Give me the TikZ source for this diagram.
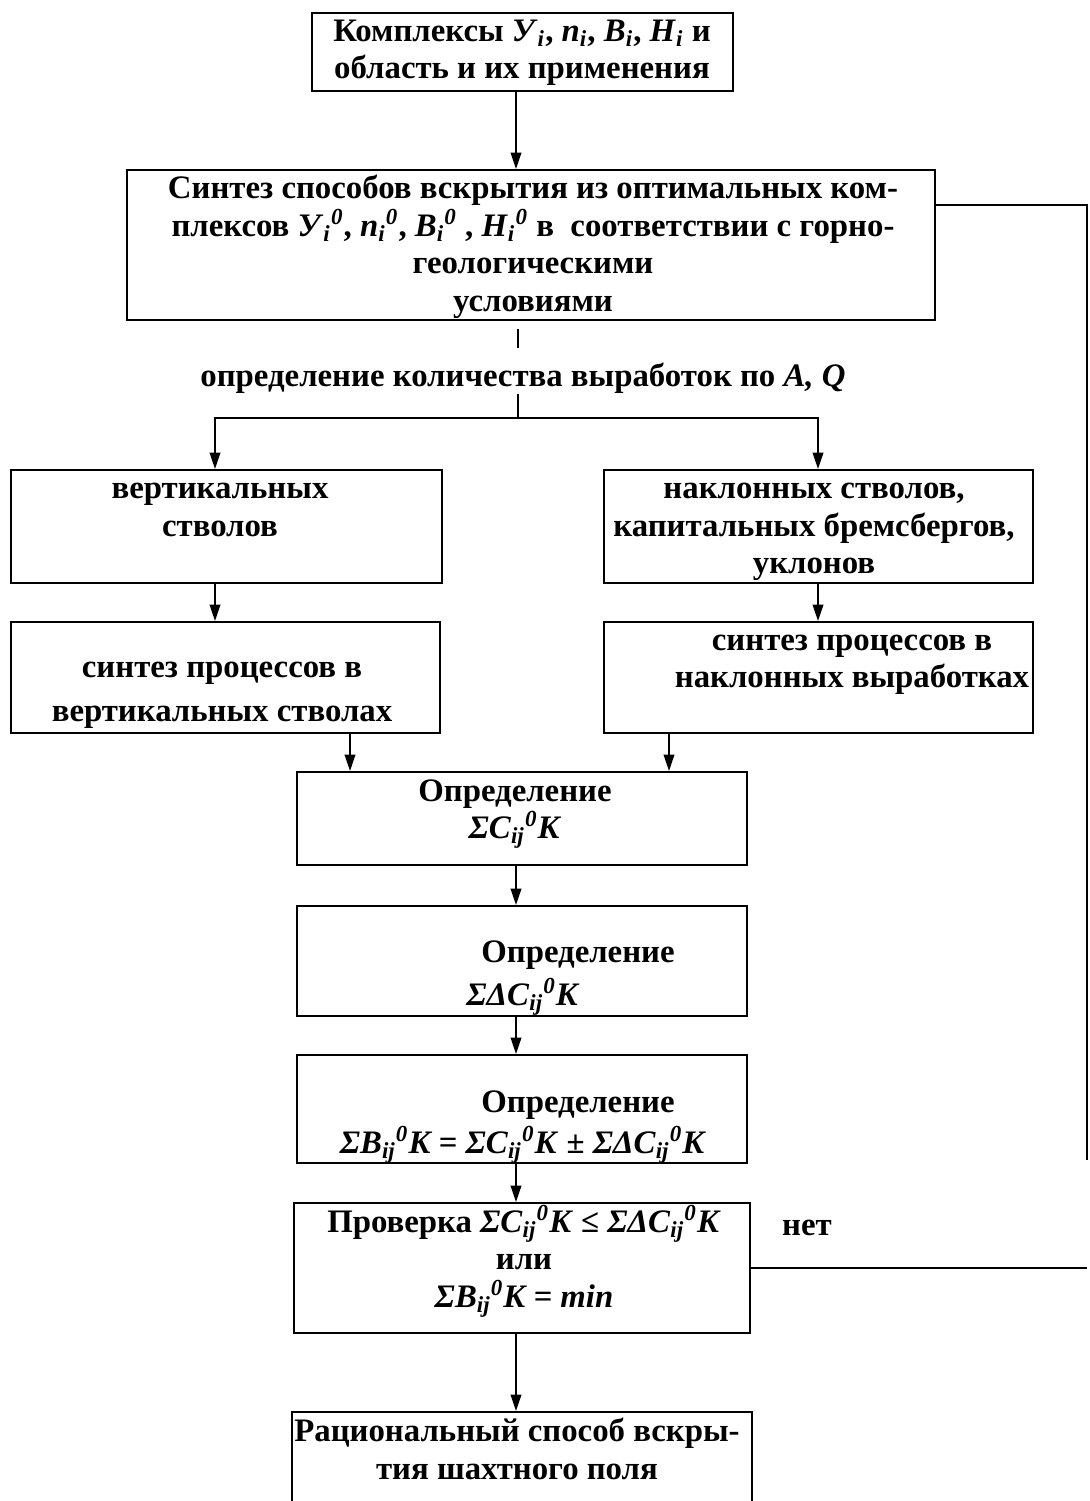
\documentclass[tikz,border=0pt]{standalone}
\usepackage{fontspec}
\setmainfont{Liberation Serif}
\usepackage{tikz}
\usetikzlibrary{arrows.meta, positioning, calc}
\newcommand{\ssub}[1]{\textsubscript{\itshape #1}}
\newcommand{\ixs}[2]{\textsubscript{\itshape #1}\textsuperscript{\itshape #2}}
\tikzset{
  %% -- flowchart box --
  fc/box/.style={draw, line width=0.8pt, inner sep=0pt},
  %% -- flowchart text --
  fc/txt/.style={font=\fontsize{14}{16}\selectfont\bfseries, align=center, inner sep=0pt},
  %% -- flowchart arrow --
  fc/arr/.style={-{Stealth[length=7pt, width=4.5pt, inset=0pt]}, line width=0.8pt},
  fc/line/.style={line width=0.8pt},
}
\begin{document}
\begin{tikzpicture}[x=0.015cm, y=-0.015cm]
\clip (0,0) rectangle (1089,1501);
%% Columns for connectors
\coordinate (cmid) at (516,0);
\coordinate (cl)   at (215,0);
\coordinate (cr)   at (818,0);
\coordinate (cvl)  at (350,0);
\coordinate (cvr)  at (669,0);
\coordinate (fork) at (518,418);

%% Boxes
\node[fc/box, minimum width=6.315cm, minimum height=1.17cm]  (cplx)  at (522.5,52)   {};
\node[fc/box, minimum width=12.12cm, minimum height=2.25cm]  (synth) at (531,245)    {};
\node[fc/box, minimum width=6.465cm, minimum height=1.695cm] (vert)  at (226.5,526.5) {};
\node[fc/box, minimum width=6.435cm, minimum height=1.695cm] (incl)  at (818.5,526.5) {};
\node[fc/box, minimum width=6.435cm, minimum height=1.665cm] (vsyn)  at (225.5,677.5) {};
\node[fc/box, minimum width=6.435cm, minimum height=1.665cm] (isyn)  at (818.5,677.5) {};
\node[fc/box, minimum width=6.75cm, minimum height=1.395cm]  (det1)  at (522,818.5)  {};
\node[fc/box, minimum width=6.75cm, minimum height=1.65cm]   (det2)  at (522,961)    {};
\node[fc/box, minimum width=6.75cm, minimum height=1.62cm]   (det3)  at (522,1109)   {};
\node[fc/box, minimum width=6.84cm, minimum height=1.95cm]   (chk)   at (522,1268)   {};
\node[fc/box, minimum width=6.9cm, minimum height=1.77cm]    (final) at (522,1471)   {};

%% Texts
\node[fc/txt] (cplx-t) at (522,53)
  {Комплексы \textit{У}\ssub{i}, \textit{n}\ssub{i}, \textit{B}\ssub{i}, \textit{H}\ssub{i} и\\область и их применения};
\node[fc/txt] (synth-t) at (533,247)
  {Синтез способов вскрытия из оптимальных ком-\\плексов \textit{У}\ixs{i}{0}, \textit{n}\ixs{i}{0}, \textit{B}\ixs{i}{0} , \textit{H}\ixs{i}{0} в~ соответствии с горно-\\геологическими\\условиями};
\node[fc/txt] (aq) at (523,378) {определение количества выработок по \textit{A, Q}};
\node[fc/txt] (vert-t) at (220,510) {вертикальных\\стволов};
\node[fc/txt] (incl-t) at (814,532) {наклонных стволов,\\капитальных бремсбергов,\\уклонов};
\node[fc/txt] (vsyn-t) at (222,695) {синтез процессов в\\[0.1cm]вертикальных стволах};
\node[fc/txt] (isyn-t) at (852,665) {синтез процессов в\\наклонных выработках};
\node[fc/txt] (det1-t) at (515,814)
  {Определение\\\textit{ΣC}\ixs{ij}{0}\textit{K}};
\node[fc/txt] (det2-a) at (578,955) {Определение};
\node[fc/txt] (det2-b) at (523,997) {\textit{ΣΔC}\ixs{ij}{0}\textit{K}};
\node[fc/txt] (det3-a) at (578,1105) {Определение};
\node[fc/txt] (det3-b) at (523,1145)
  {\textit{ΣB}\ixs{ij}{0}\textit{K = ΣC}\ixs{ij}{0}\textit{K} ± \textit{ΣΔC}\ixs{ij}{0}\textit{K}};
\node[fc/txt] (chk-t) at (524,1261)
  {Проверка \textit{ΣC}\ixs{ij}{0}\textit{K} ≤ \textit{ΣΔC}\ixs{ij}{0}\textit{K}\\или\\\textit{ΣB}\ixs{ij}{0}\textit{K = min}};
\node[fc/txt] (no) at (807,1228) {нет};
\node[fc/txt] (final-t) at (517,1449) {Рациональный способ вскры-\\тия шахтного поля};

%% Connectors
\draw[fc/arr] (cplx.south -| cmid) -- (synth.north -| cmid);
\draw[fc/line, shorten <=0.12cm, shorten >=0.21cm] (synth.south -| fork) -- (aq.north -| fork);
\draw[fc/line] (aq.south -| fork) -- (fork);
\draw[fc/arr] (fork) -| (vert.north -| cl);
\draw[fc/arr] (fork) -| (incl.north -| cr);
\draw[fc/arr] (vert.south -| cl) -- (vsyn.north -| cl);
\draw[fc/arr] (incl.south -| cr) -- (isyn.north -| cr);
\draw[fc/arr] (vsyn.south -| cvl) -- (det1.north -| cvl);
\draw[fc/arr] (isyn.south -| cvr) -- (det1.north -| cvr);
\draw[fc/arr] (det1.south -| cmid) -- (det2.north -| cmid);
\draw[fc/arr] (det2.south -| cmid) -- (det3.north -| cmid);
\draw[fc/arr] (det3.south -| cmid) -- (chk.north -| cmid);
\draw[fc/arr] (chk.south -| cmid) -- (final.north -| cmid);

%% Feedback line
\coordinate (fbtop) at (1087,205);
\coordinate (fbend) at (1087,1160);
\coordinate (fbbot) at (1087,1267);
\draw[fc/line] (chk.east) -- (chk.east -| fbbot);
\draw[fc/line] (fbend) -- (fbtop) -- (fbtop -| synth.east);
\end{tikzpicture}
\end{document}
